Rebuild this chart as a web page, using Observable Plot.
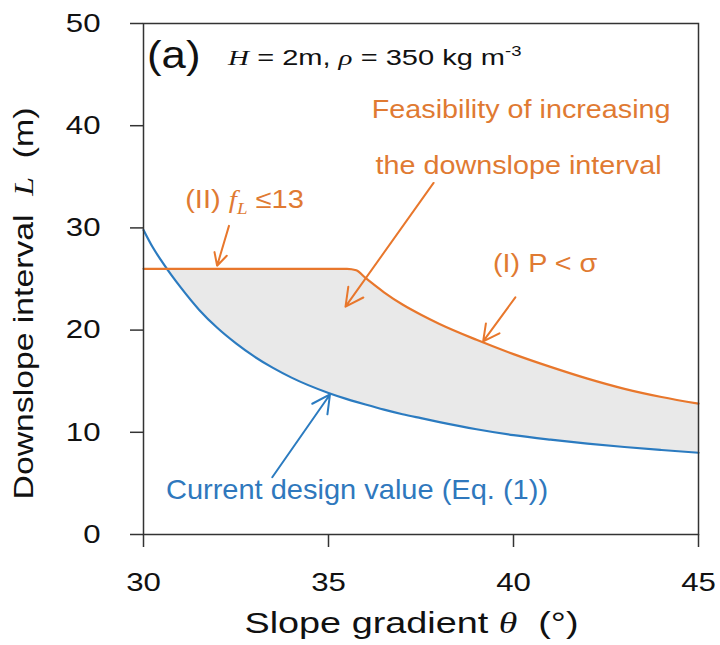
<!DOCTYPE html>
<html>
<head>
<meta charset="utf-8">
<script src="https://cdn.jsdelivr.net/npm/d3@7"></script>
<script src="https://cdn.jsdelivr.net/npm/@observablehq/plot@0.6"></script>
<style>
  html, body { margin: 0; padding: 0; background: #fff; }
  #chart { width: 720px; height: 645px; }
</style>
</head>
<body>
<div id="chart"></div>
<script>
// ---- data ----
const theta = [30, 30.25, 30.5, 30.75, 31, 31.5, 32, 32.5, 33, 33.5, 34, 35, 35.5, 35.75, 36, 36.5, 37, 37.5, 38, 39, 40, 41, 42, 43, 44, 45];
const designL = [29.8, 28.1, 26.7, 25.4, 24.2, 22.0, 20.2, 18.7, 17.4, 16.3, 15.35, 13.85, 13.25, 12.98, 12.72, 12.22, 11.77, 11.38, 11.0, 10.3, 9.72, 9.28, 8.9, 8.56, 8.27, 8.0];
const feasibleL = [26, 26, 26, 26, 26, 26, 26, 26, 26, 26, 26, 26, 26, 25.85, 25.1, 23.7, 22.5, 21.5, 20.6, 19.05, 17.65, 16.4, 15.25, 14.25, 13.45, 12.8];
const xTicks = [30, 35, 40, 45];
const yTicks = [0, 10, 20, 30, 40, 50];

// annotation arrows (data units: theta, L)
const orangeArrows = [
  {x1: 37.84, y1: 34.4, x2: 35.46, y2: 22.3},
  {x1: 32.31, y1: 30.2, x2: 31.99, y2: 26.3},
  {x1: 40.05, y1: 23.2, x2: 39.18, y2: 18.9}
];
const blueArrows = [
  {x1: 33.48, y1: 5.6, x2: 35.04, y2: 13.7}
];

const BLUE = "#2b7bc0", ORANGE = "#e8772c", FILL = "#e9e9e9", INK = "#111";
const SANS = "'Liberation Sans', Arial, sans-serif";
const SERIF = "'Liberation Serif', 'Times New Roman', serif";

const rows = theta.map((t, i) => ({theta: t, design: designL[i], feasible: feasibleL[i]}));

const plot = Plot.plot({
  width: 720,
  height: 645,
  marginLeft: 143,
  marginRight: 22,
  marginTop: 23,
  marginBottom: 111,
  style: {fontFamily: SANS, fontSize: "26px", color: INK, background: "white"},
  x: {domain: [30, 45], ticks: xTicks, tickSize: 13, tickPadding: 25, label: null},
  y: {domain: [0, 50], ticks: yTicks, tickSize: 13, tickPadding: 30, label: null},
  marks: [
    Plot.areaY(rows, {x: "theta", y1: d => Math.min(d.design, d.feasible), y2: "feasible", fill: FILL, curve: "monotone-x"}),
    Plot.line(rows, {x: "theta", y: "design", stroke: BLUE, strokeWidth: 2.2, curve: "monotone-x"}),
    Plot.line(rows, {x: "theta", y: "feasible", stroke: ORANGE, strokeWidth: 2.2, curve: "monotone-x"}),
    Plot.arrow(orangeArrows, {x1: "x1", y1: "y1", x2: "x2", y2: "y2", stroke: ORANGE, strokeWidth: 2, headLength: 15, headAngle: 55}),
    Plot.arrow(blueArrows, {x1: "x1", y1: "y1", x2: "x2", y2: "y2", stroke: BLUE, strokeWidth: 2, headLength: 15, headAngle: 55}),
    Plot.frame({stroke: "#333", strokeWidth: 1.5})
  ]
});
document.getElementById("chart").appendChild(plot);

const svg = d3.select(plot.tagName.toLowerCase() === "svg" ? plot : plot.querySelector("svg"));
const xs = plot.scale("x"), ys = plot.scale("y");

// widen tick labels slightly (original glyphs are broader) and thicken ticks
svg.selectAll("g[aria-label$='tick label'] text").each(function () {
  const t = this.getAttribute("transform");
  if (t) this.setAttribute("transform", t + " scale(1.2,1)");
  else {
    const x = +this.getAttribute("x") || 0, y = +this.getAttribute("y") || 0;
    this.setAttribute("x", 0); this.setAttribute("y", 0);
    this.setAttribute("transform", `translate(${x},${y}) scale(1.2,1)`);
  }
});
svg.selectAll("g[aria-label$='tick']").attr("stroke-width", 1.5).attr("stroke", "#333");

function addText(x, y, opts, parts) {
  const t = svg.append("text")
    .attr("transform", `translate(${x},${y})${opts.rotate ? ` rotate(${opts.rotate})` : ""} scale(${opts.sx || 1},1)`)
    .attr("text-anchor", opts.anchor || "start")
    .attr("font-family", SANS)
    .attr("font-size", opts.size)
    .attr("fill", opts.fill || INK)
    .attr("xml:space", "preserve")
    .style("white-space", "pre");
  parts.forEach(p => {
    const s = t.append("tspan").text(p.t);
    if (p.italic) s.attr("font-style", "italic");
    if (p.serif) s.attr("font-family", SERIF);
    if (p.size) s.attr("font-size", p.size);
    if (p.dy) s.attr("dy", p.dy);
    if (p.dx) s.attr("dx", p.dx);
  });
}

// annotation anchors in data units
const notePos = {
  panel: [30.11, 45.6],
  params: [32.3, 45.9],
  feas1: [40.22, 40.7],
  feas2: [40.15, 35.2],
  fl: [31.14, 31.9],
  psig: [39.46, 25.6],
  current: [30.62, 3.4]
};
const P = k => [xs.apply(notePos[k][0]), ys.apply(notePos[k][1])];

addText(...P("panel"), {size: 38, sx: 1.15}, [{t: "(a)"}]);
addText(...P("params"), {size: 22, sx: 1.32}, [
  {t: "H", italic: true, serif: true},
  {t: " = 2m, "},
  {t: "ρ", italic: true, serif: true},
  {t: " = 350 kg m"},
  {t: "-3", size: 14, dy: -9}
]);
addText(...P("feas1"), {size: 25, sx: 1.15, anchor: "middle", fill: "#e07a32"}, [{t: "Feasibility of increasing"}]);
addText(...P("feas2"), {size: 25, sx: 1.15, anchor: "middle", fill: "#e07a32"}, [{t: "the downslope interval"}]);
addText(...P("fl"), {size: 26, sx: 1.12, fill: "#e07a32"}, [
  {t: "(II) "},
  {t: "f", italic: true, serif: true},
  {t: "L", italic: true, serif: true, size: 17, dy: 6},
  {t: " ≤13", dy: -6}
]);
addText(...P("psig"), {size: 25, sx: 1.15, fill: "#e07a32"}, [{t: "(I) P < σ"}]);
addText(...P("current"), {size: 27, sx: 1.075, fill: "#2f78bd"}, [{t: "Current design value (Eq. (1))"}]);

// axis titles
const plotMidX = (xs.range[0] + xs.range[1]) / 2;
const plotMidY = (ys.range[0] + ys.range[1]) / 2;
addText(plotMidX - 9, 633, {size: 30, sx: 1.26, anchor: "middle"}, [
  {t: "Slope gradient "},
  {t: "θ", italic: true, serif: true},
  {t: "  (°)"}
]);
addText(33, plotMidY + 25, {size: 27, sx: 1.25, anchor: "middle", rotate: -90}, [
  {t: "Downslope interval  "},
  {t: "L", italic: true, serif: true},
  {t: "  (m)"}
]);
</script>
</body>
</html>
